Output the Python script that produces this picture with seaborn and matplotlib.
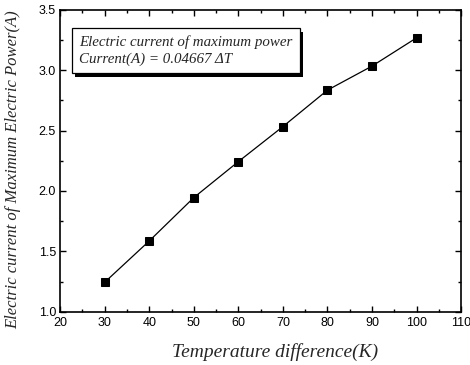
import matplotlib
matplotlib.use("Agg")
import matplotlib.pyplot as plt
import matplotlib.patheffects as pe
from matplotlib.ticker import MultipleLocator
import seaborn as sns
import pandas as pd

temp_diff = [30, 40, 50, 60, 70, 80, 90, 100]
current = [1.244, 1.586, 1.945, 2.243, 2.533, 2.835, 3.034, 3.268]
x_label = "Temperature difference(K)"
y_label = "Electric current of Maximum Electric Power(A)"
note_lines = ["Electric current of maximum power", "Current(A) = 0.04667 \u0394T"]

sns.set_theme(style="ticks")
plt.rcParams["font.family"] = ["Liberation Sans", "DejaVu Sans"]

df = pd.DataFrame({"dT": temp_diff, "I": current})

fig = plt.figure(figsize=(4.7, 3.65), dpi=100)
ax = fig.add_axes([0.128, 0.146, 0.853, 0.827])

sns.lineplot(data=df, x="dT", y="I", ax=ax, color="black", linewidth=0.9,
             marker="s", markersize=6, markerfacecolor="black",
             markeredgecolor="black")

ax.set_xlim(20, 110)
ax.set_ylim(1.0, 3.5)
ax.xaxis.set_major_locator(MultipleLocator(10))
ax.xaxis.set_minor_locator(MultipleLocator(5))
ax.yaxis.set_major_locator(MultipleLocator(0.5))
ax.yaxis.set_minor_locator(MultipleLocator(0.25))
ax.tick_params(which="both", direction="in", top=True, right=True,
               colors="black", labelsize=9, width=1.0)
ax.tick_params(which="major", length=4, pad=4)
ax.tick_params(which="minor", length=2.5)
ax.tick_params(axis="y", which="major", pad=3)
for s in ax.spines.values():
    s.set_color("black")
    s.set_linewidth(1.2)

serif = ["Liberation Serif", "DejaVu Serif"]
ax.set_xlabel(x_label, family=serif, style="italic", size=14)
ax.set_ylabel(y_label, family=serif, style="italic", size=12)
ax.xaxis.set_label_coords(0.535, -0.105)
ax.yaxis.set_label_coords(-0.098, 0.47)

t = ax.text(0.047, 0.915, "\n".join(note_lines), transform=ax.transAxes,
            family=serif, style="italic", size=10.8,
            va="top", ha="left", linespacing=1.3,
            bbox=dict(boxstyle="square,pad=0.5", facecolor="white",
                      edgecolor="black", linewidth=0.9))
t.get_bbox_patch().set_path_effects([
    pe.SimplePatchShadow(offset=(2.5, -2.5), shadow_rgbFace="black", alpha=1.0),
    pe.Normal()])

fig.savefig("out.png", dpi=100)
